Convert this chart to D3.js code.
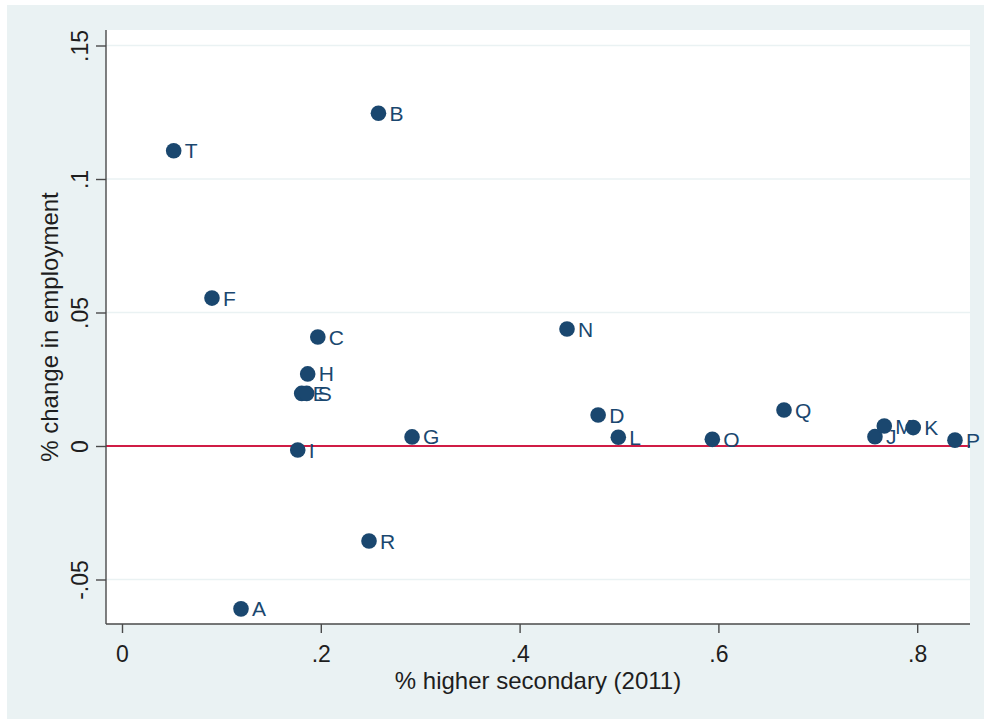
<!DOCTYPE html>
<html>
<head>
<meta charset="utf-8">
<script src="https://cdn.jsdelivr.net/npm/d3@7"></script>
<style>
  html, body { margin: 0; padding: 0; background: #ffffff; }
  svg { display: block; }
  text { font-family: "Liberation Sans", Arial, sans-serif; }
</style>
</head>
<body>
<svg id="chart" width="984" height="719"></svg>
<script>
// ---- data ----
const labels = ["A","B","C","D","E","F","G","H","I","J","K","L","M","N","O","P","Q","R","S","T"];
const higherSecondary = [0.1197,0.258,0.197,0.479,0.1808,0.0905,0.2918,0.1868,0.1768,0.7575,0.796,0.4993,0.7669,0.4477,0.5939,0.838,0.666,0.2485,0.1858,0.052];
const changeEmployment = [-0.0610,0.1246,0.0408,0.0116,0.0197,0.0554,0.0034,0.0270,-0.0015,0.0035,0.0069,0.0033,0.0075,0.0438,0.0025,0.0022,0.0135,-0.0356,0.0197,0.1106];
const xTicks = [0, 0.2, 0.4, 0.6, 0.8];
const xTickLabels = ["0", ".2", ".4", ".6", ".8"];
const yTicks = [-0.05, 0, 0.05, 0.1, 0.15];
const yTickLabels = ["-.05", "0", ".05", ".1", ".15"];
const xTitle = "% higher secondary (2011)";
const yTitle = "% change in employment";

// ---- layout ----
const svg = d3.select("#chart");
const plot = { left: 106, right: 970, top: 30, bottom: 624 };

const x = d3.scaleLinear()
  .domain([(plot.left - 122) / 994, (plot.right - 122) / 994])
  .range([plot.left, plot.right]);
const y = d3.scaleLinear()
  .domain([(446 - plot.bottom) / 2670, (446 - plot.top) / 2670])
  .range([plot.bottom, plot.top]);

// graph region background
svg.append("rect").attr("x", 7).attr("y", 5).attr("width", 984 - 7).attr("height", 719 - 5)
  .attr("fill", "#eaf2f3");
// plot region
svg.append("rect").attr("x", plot.left).attr("y", plot.top)
  .attr("width", plot.right - plot.left).attr("height", plot.bottom - plot.top)
  .attr("fill", "#ffffff");

// gridlines
svg.append("g").selectAll("line").data(yTicks).join("line")
  .attr("x1", plot.left).attr("x2", plot.right)
  .attr("y1", d => y(d)).attr("y2", d => y(d))
  .attr("stroke", "#eaf2f3").attr("stroke-width", 1.6);

// reference line at 0
svg.append("line")
  .attr("x1", plot.left).attr("x2", plot.right)
  .attr("y1", y(0)).attr("y2", y(0))
  .attr("stroke", "#d01c45").attr("stroke-width", 2);

// axes
const yAxis = d3.axisLeft(y).tickValues(yTicks).tickSize(10)
  .tickFormat((d, i) => yTickLabels[i]);
const gy = svg.append("g").attr("transform", `translate(${plot.left},0)`).call(yAxis);
gy.select(".domain").attr("stroke", "#4a4a4a").attr("stroke-width", 1.4)
  .attr("d", `M0,${plot.top}V${plot.bottom}`);
gy.selectAll(".tick line").attr("stroke", "#4a4a4a").attr("stroke-width", 1.4);
gy.selectAll(".tick text")
  .attr("x", null).attr("dy", null)
  .attr("transform", "translate(-18,0) rotate(-90)")
  .attr("text-anchor", "middle")
  .attr("fill", "#1e1e1e")
  .style("font-size", "23px")
  .style("font-family", "'Liberation Sans', Arial, sans-serif");

const xAxis = d3.axisBottom(x).tickValues(xTicks).tickSize(9)
  .tickFormat((d, i) => xTickLabels[i]);
const gx = svg.append("g").attr("transform", `translate(0,${plot.bottom})`).call(xAxis);
gx.select(".domain").attr("stroke", "#4a4a4a").attr("stroke-width", 1.4)
  .attr("d", `M${plot.left},0H${plot.right}`);
gx.selectAll(".tick line").attr("stroke", "#4a4a4a").attr("stroke-width", 1.4);
gx.selectAll(".tick text")
  .attr("y", 38).attr("dy", null)
  .attr("fill", "#1e1e1e")
  .style("font-size", "23px")
  .style("font-family", "'Liberation Sans', Arial, sans-serif");

// axis titles
svg.append("text")
  .attr("x", (plot.left + plot.right) / 2).attr("y", 689)
  .attr("text-anchor", "middle").attr("fill", "#1e1e1e")
  .style("font-size", "24px")
  .text(xTitle);
svg.append("text")
  .attr("transform", `translate(58,${(plot.top + plot.bottom) / 2}) rotate(-90)`)
  .attr("text-anchor", "middle").attr("fill", "#1e1e1e")
  .style("font-size", "24px")
  .text(yTitle);

// points + labels
const pts = labels.map((l, i) => ({ label: l, x: higherSecondary[i], y: changeEmployment[i] }));
const g = svg.append("g");
g.selectAll("circle").data(pts).join("circle")
  .attr("cx", d => x(d.x)).attr("cy", d => y(d.y)).attr("r", 7.8)
  .attr("fill", "#1a476f");
g.selectAll("text.lbl").data(pts).join("text")
  .attr("class", "lbl")
  .attr("x", d => x(d.x) + 11)
  .attr("y", d => y(d.y))
  .attr("dy", "0.36em")
  .attr("fill", "#1a476f")
  .style("font-size", "21px")
  .text(d => d.label);
</script>
</body>
</html>
